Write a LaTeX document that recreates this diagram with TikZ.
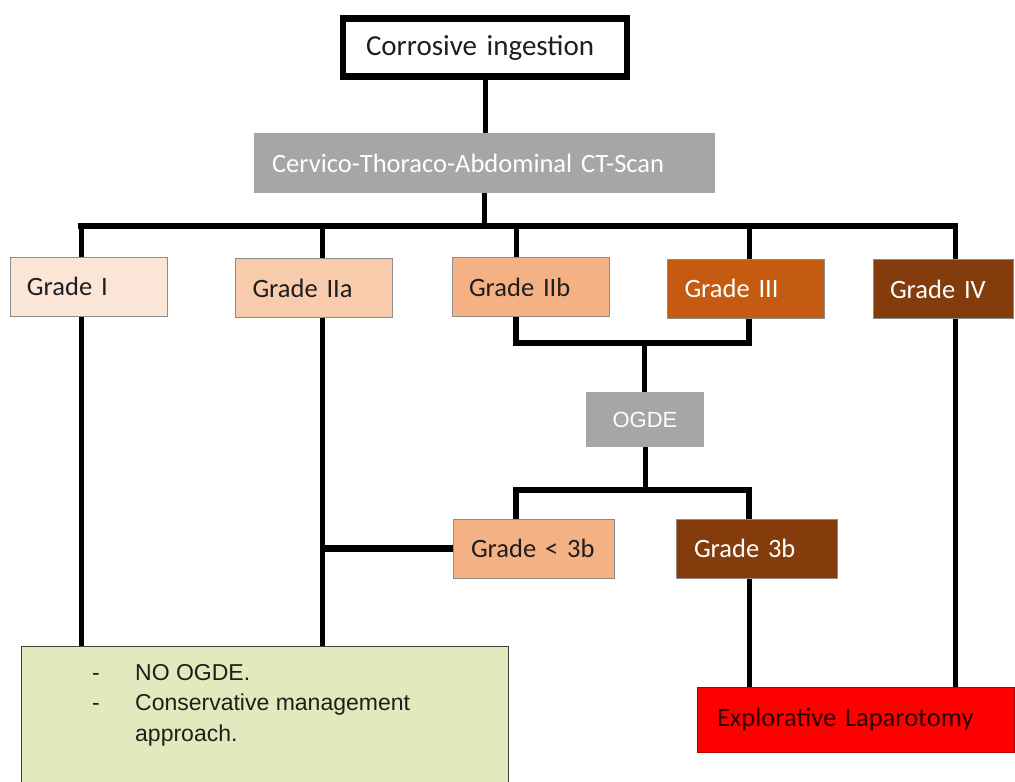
\documentclass[tikz,border=0pt]{standalone}
\usepackage{fontspec}
\setmainfont{Carlito}[WordSpace={0.7,0,0}]
\newfontfamily\arialfont{Liberation Sans}[WordSpace={1,0,0}]
\usepackage{xcolor}
\usetikzlibrary{positioning,calc}
\definecolor{gradeI}{RGB}{251,229,214}
\definecolor{gradeIIa}{RGB}{248,203,173}
\definecolor{gradeIIb}{RGB}{244,177,131}
\definecolor{gradeIII}{RGB}{197,90,17}
\definecolor{gradeIV}{RGB}{132,60,12}
\definecolor{scangray}{RGB}{166,166,166}
\definecolor{advicegreen}{RGB}{226,233,188}
\definecolor{inktext}{RGB}{30,30,30}
\definecolor{laptext}{RGB}{45,0,0}

\begin{document}
\begin{tikzpicture}[x=1pt,y=-1pt,line join=miter,
  conn/.style={line width=5pt,black},
  bus/.style={line width=6.5pt,black},
  grade/.style={draw=black!45,line width=1pt,fill=#1,minimum height=59pt,
    inner xsep=17pt,text width=123pt,align=left,text=inktext,
    font=\fontsize{26.5}{30}\selectfont},
  darkgrade/.style={grade=#1,text=white},
  scanbox/.style={fill=scangray,text=white,minimum height=#1},
  startbox/.style={draw=black,line width=6.5pt,fill=white,minimum height=58pt,
    inner xsep=23pt,text width=238pt,align=left,font=\fontsize{29}{33}\selectfont,text=inktext}]
\useasboundingbox (0,0) rectangle (1015,782);
\clip (0,0) rectangle (1015,782);

% top of the chart
\node[startbox] (start) at (485,47.5) {Corrosive ingestion};
\node[scanbox=60pt,minimum width=461pt,inner xsep=18pt,text width=425pt,align=left,
  font=\fontsize{26.5}{30}\selectfont] (ct) at (484.5,163) {Cervico-Thoraco-Abdominal CT-Scan};

% grades from the CT
\node[grade=gradeI] (g1) at (88.5,286.5) {Grade I};
\node[grade=gradeIIa] (g2) at (314,288) {Grade IIa};
\node[grade=gradeIIb] (g3) at (530.5,287) {Grade IIb};
\node[darkgrade=gradeIII] (g4) at (746,288.5) {Grade III};
\node[darkgrade=gradeIV,text width=106pt] (g5) at (943,289) {Grade IV};

% endoscopy
\node[scanbox=55pt,minimum width=118pt,font=\arialfont\fontsize{22}{26}\selectfont] (ogde) at (645,419.5) {OGDE};
\node[grade=gradeIIb,text width=125pt,inner xsep=18pt] (lt3b) at (533.5,548.5) {Grade < 3b};
\node[darkgrade=gradeIV,text width=125pt,inner xsep=18pt] (g3b) at (756.5,548.5) {Grade 3b};

% outcomes
\node[draw=black!75,line width=1.2pt,fill=advicegreen,anchor=north west,
  minimum width=487pt,minimum height=160pt] (green) at (21,646) {};
\node[anchor=north west,inner sep=0pt,align=left,text=inktext,
  font=\arialfont\fontsize{23}{30.5}\selectfont] (advice) at (92,664)
  {\makebox[43pt][l]{-}NO OGDE.\\
   \makebox[43pt][l]{-}Conservative management\\
   \hspace*{43pt}approach.};
\node[draw=red!70!black,line width=1pt,fill=red,minimum width=317pt,minimum height=65pt,
  inner xsep=20pt,text width=277pt,align=left,text=laptext,
  font=\fontsize{26.5}{30}\selectfont] (lap) at (855.5,719.5) {Explorative Laparotomy};

% branch points
\coordinate (b1) at (81,226);
\coordinate (b2) at (322,226);
\coordinate (b3) at (516,226);
\coordinate (b4) at (749,226);
\coordinate (b5) at (955,226);
\coordinate (j1) at (644,343);
\coordinate (j2) at (644,490);

\draw[conn] (start.south) -- (start.south |- ct.north);
\draw[conn] (ct.south) -- (ct.south |- b1);
\draw[bus,line cap=rect] (b1) -- (b5);
\foreach \b/\g in {b1/g1,b2/g2,b3/g3,b4/g4,b5/g5}
  \draw[conn] (\b) -- (\b |- \g.north);

\draw[bus] (b3 |- g3.south) |- (b4 |- j1) -- (b4 |- g4.south);
\draw[conn] (j1) -- (j1 |- ogde.north);
\draw[conn] (ogde.south) -- (ogde.south |- j2);
\draw[bus] (b3 |- lt3b.north) |- (j2) -| (b4 |- g3b.north);
\draw[bus] (lt3b.west) -- (lt3b.west -| b2);

\draw[conn] (b1 |- g1.south) -- (b1 |- green.north);
\draw[conn] (b2 |- g2.south) -- (b2 |- green.north);
\draw[conn] (b4 |- g3b.south) -- (b4 |- lap.north);
\draw[conn] (b5 |- g5.south) -- (b5 |- lap.north);
\end{tikzpicture}
\end{document}
